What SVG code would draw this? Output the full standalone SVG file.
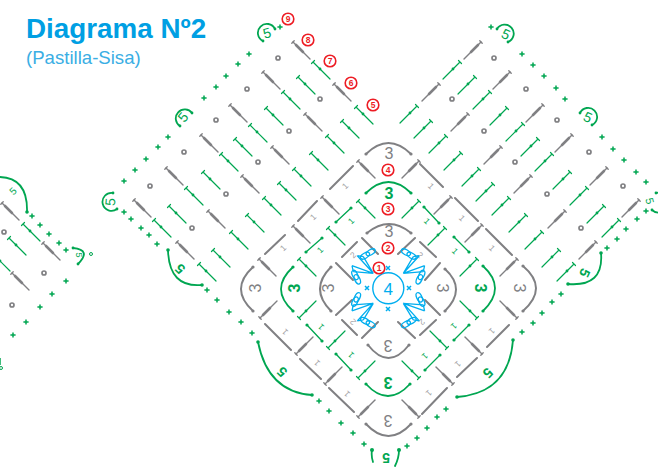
<svg xmlns="http://www.w3.org/2000/svg" width="658" height="467" viewBox="0 0 658 467">
<style>
text{font-family:"Liberation Sans",Arial,sans-serif;text-anchor:middle}
.gl{stroke:#808083;stroke-width:2;stroke-linecap:round;fill:none}
.gr{stroke:#00a651;stroke-width:1.7;stroke-linecap:round;fill:none}
.ar{stroke:#00a651;stroke-width:1.8;stroke-linecap:round;fill:none}
.ag{stroke:#808083;stroke-width:2;stroke-linecap:round;fill:none}
.r{fill:#fff;stroke:#ed1c24;stroke-width:1.6}
.rt{fill:#ed1c24;font-size:8.5px;font-weight:bold}
.d{fill:none;stroke:#808083;stroke-width:1.7}
.t3g{fill:#808083;font-size:16px}
.t3v{fill:#00a651;font-size:16px;font-weight:bold}
.t5{fill:#00a651;font-size:14px}
.t1g{fill:#a0a0a3;font-size:8.5px}
.t1v{fill:#00a651;font-size:8.5px}
.b{stroke:#00aeef;stroke-width:1.3;fill:none}
.gd{fill:#00a651}
</style>
<defs>
<g id="G"><path class="gl" style="stroke-width:1.4" d="M0,0L17,17"/><path class="gl" style="stroke-width:2.6" d="M3,3L10,10"/><path class="gl" style="stroke-width:1.4" d="M-1.2,1.2L1.2,-1.2"/></g>
<g id="V"><path class="gr" style="stroke-width:1.2" d="M0,0L17,17M-1.5,1.5L1.5,-1.5"/><circle class="gd" cx="7" cy="7" r="1.4"/></g>
<g id="P"><path d="M-2.6,0H2.6M0,-2.6V2.6" stroke="#00a651" stroke-width="1.5" fill="none"/></g>
<g id="X"><path d="M-2,-2L2,2M-2,2L2,-2" stroke="#00aeef" stroke-width="1.5" fill="none"/></g>
<g id="Q">
<ellipse class="b" cx="370.7" cy="252.3" rx="5" ry="2.6" transform="rotate(-30 370.7 252.3)"/>
<ellipse class="b" cx="365" cy="255.7" rx="5" ry="2.6" transform="rotate(-30 365 255.7)"/>
<ellipse class="b" cx="355" cy="275" rx="5" ry="2.6" transform="rotate(65 355 275)"/>
<ellipse class="b" cx="357.3" cy="279.3" rx="5" ry="2.6" transform="rotate(65 357.3 279.3)"/>
<path class="b" d="M373.3,273.3L357.3,255.7M373.3,273.3L363.3,256.7M373.3,273.3L352,265.7M373.3,273.3L353.3,271.7M352,265.7L353.3,271.7M357.3,255.7L363.3,256.7"/>
</g>
</defs>
<g id="title">
<text x="26" y="38" style="text-anchor:start;font-size:27.8px;font-weight:bold;fill:#009fe3">Diagrama Nº2</text>
<text x="26" y="63.5" style="text-anchor:start;font-size:18.6px;fill:#3aaee4">(Pastilla-Sisa)</text>
</g>
<g id="connectors">
<g id="gray-stitches">
<use href="#G" x="293" y="42"/><use href="#G" x="334" y="84"/><use href="#G" x="263" y="72"/><use href="#G" x="305" y="114"/><use href="#G" x="230" y="105"/><use href="#G" x="272" y="147"/><use href="#G" x="201" y="135"/><use href="#G" x="242" y="176"/><use href="#G" x="166" y="168"/><use href="#G" x="208" y="211"/><use href="#G" x="134" y="200"/><use href="#G" x="177" y="242"/><use href="#G" x="259" y="259"/><use href="#G" x="293" y="226"/><use href="#G" x="322" y="197"/><use href="#G" x="358" y="161"/><use href="#G" x="2" y="203"/><use href="#G" x="43" y="243"/><use href="#G" x="12" y="273"/>
<use href="#G" transform="translate(481,42) scale(-1,1)"/><use href="#G" transform="translate(439,84) scale(-1,1)"/><use href="#G" transform="translate(510,72) scale(-1,1)"/><use href="#G" transform="translate(468,114) scale(-1,1)"/><use href="#G" transform="translate(543,105) scale(-1,1)"/><use href="#G" transform="translate(501,147) scale(-1,1)"/><use href="#G" transform="translate(572,135) scale(-1,1)"/><use href="#G" transform="translate(531,176) scale(-1,1)"/><use href="#G" transform="translate(607,168) scale(-1,1)"/><use href="#G" transform="translate(565,211) scale(-1,1)"/><use href="#G" transform="translate(639,200) scale(-1,1)"/><use href="#G" transform="translate(596,242) scale(-1,1)"/><use href="#G" transform="translate(517,259) scale(-1,1)"/><use href="#G" transform="translate(482,225) scale(-1,1)"/><use href="#G" transform="translate(451,197) scale(-1,1)"/><use href="#G" transform="translate(419,161) scale(-1,1)"/>
<use href="#G" transform="translate(260,318) scale(1,-1)"/><use href="#G" transform="translate(296,354) scale(1,-1)"/><use href="#G" transform="translate(325,384) scale(1,-1)"/><use href="#G" transform="translate(358,417) scale(1,-1)"/>
<use href="#G" transform="translate(517,318) scale(-1,-1)"/><use href="#G" transform="translate(482,354) scale(-1,-1)"/><use href="#G" transform="translate(453,384) scale(-1,-1)"/><use href="#G" transform="translate(419,417) scale(-1,-1)"/>
</g>
<g id="green-stitches">
<use href="#V" x="313" y="62"/><use href="#V" x="356" y="107"/><use href="#V" x="298" y="77"/><use href="#V" x="283" y="92"/><use href="#V" x="342" y="121"/><use href="#V" x="327" y="136"/><use href="#V" x="266" y="108"/><use href="#V" x="250" y="125"/><use href="#V" x="311" y="153"/><use href="#V" x="235" y="139"/><use href="#V" x="221" y="154"/><use href="#V" x="294" y="169"/><use href="#V" x="279" y="183"/><use href="#V" x="264" y="198"/><use href="#V" x="247" y="215"/><use href="#V" x="231" y="232"/><use href="#V" x="213" y="250"/><use href="#V" x="203" y="172"/><use href="#V" x="186" y="188"/><use href="#V" x="169" y="206"/><use href="#V" x="154" y="220"/><use href="#V" x="199" y="264"/><use href="#V" x="299" y="259"/><use href="#V" x="358" y="201"/><use href="#V" x="328" y="228"/><use href="#V" x="23" y="224"/><use href="#V" x="9" y="238"/><use href="#V" x="-7" y="254"/>
<use href="#V" transform="translate(460,62) scale(-1,1)"/><use href="#V" transform="translate(417,106) scale(-1,1)"/><use href="#V" transform="translate(475,77) scale(-1,1)"/><use href="#V" transform="translate(490,92) scale(-1,1)"/><use href="#V" transform="translate(431,121) scale(-1,1)"/><use href="#V" transform="translate(446,136) scale(-1,1)"/><use href="#V" transform="translate(507,108) scale(-1,1)"/><use href="#V" transform="translate(523,124) scale(-1,1)"/><use href="#V" transform="translate(461,153) scale(-1,1)"/><use href="#V" transform="translate(538,139) scale(-1,1)"/><use href="#V" transform="translate(552,154) scale(-1,1)"/><use href="#V" transform="translate(479,169) scale(-1,1)"/><use href="#V" transform="translate(493,184) scale(-1,1)"/><use href="#V" transform="translate(509,198) scale(-1,1)"/><use href="#V" transform="translate(526,215) scale(-1,1)"/><use href="#V" transform="translate(542,232) scale(-1,1)"/><use href="#V" transform="translate(559,250) scale(-1,1)"/><use href="#V" transform="translate(570,172) scale(-1,1)"/><use href="#V" transform="translate(587,188) scale(-1,1)"/><use href="#V" transform="translate(604,206) scale(-1,1)"/><use href="#V" transform="translate(619,220) scale(-1,1)"/><use href="#V" transform="translate(574,264) scale(-1,1)"/><use href="#V" transform="translate(477,259) scale(-1,1)"/><use href="#V" transform="translate(419,201) scale(-1,1)"/><use href="#V" transform="translate(445,228) scale(-1,1)"/>
<use href="#V" transform="translate(299,318) scale(1,-1)"/><use href="#V" transform="translate(328,348) scale(1,-1)"/><use href="#V" transform="translate(358,378) scale(1,-1)"/>
<use href="#V" transform="translate(477,318) scale(-1,-1)"/><use href="#V" transform="translate(447,348) scale(-1,-1)"/><use href="#V" transform="translate(419,378) scale(-1,-1)"/>
</g>
<path id="gray-bars" class="gl" d="M298,221L317,201M265,254L285,235M330,189L353,166M455,198L478,221M486,229L512,255M420,164L443,187M265,324L291,350M300,359L321,379M329,388L354,412M487,347L509,325M457,377L477,358M422,414L447,388M362,238L378,254M342,257L357,242M336,263L353,280M336,315L352,300M342,320L357,335M362,338L378,322M398,254L415,238M420,242L436,257M425,280L440,263M425,300L440,315M420,335L436,320M398,322L415,338"/>
<g id="green-bars">
<path class="gr" style="stroke-width:1.3" d="M306,252L322,238M336,222L351,208M424,207L439,223M454,237L469,252M307,325L322,341M336,354L351,370M425,370L440,355M454,340L469,325"/>
<g class="gd"><circle cx="306" cy="252" r="1.6"/><circle cx="322" cy="238" r="1.6"/><circle cx="336" cy="222" r="1.6"/><circle cx="351" cy="208" r="1.6"/><circle cx="424" cy="207" r="1.6"/><circle cx="439" cy="223" r="1.6"/><circle cx="454" cy="237" r="1.6"/><circle cx="469" cy="252" r="1.6"/><circle cx="307" cy="325" r="1.6"/><circle cx="322" cy="341" r="1.6"/><circle cx="336" cy="354" r="1.6"/><circle cx="351" cy="370" r="1.6"/><circle cx="425" cy="370" r="1.6"/><circle cx="440" cy="355" r="1.6"/><circle cx="454" cy="340" r="1.6"/><circle cx="469" cy="325" r="1.6"/></g>
</g>
<g id="arcs-gray" class="ag">
<path d="M366,154Q388.5,132 411,154M367,233Q389,215 411,233M368,345Q388.5,371 409,345M366,424Q388.5,448 411,424M253,267Q229,289 253,311M331,267Q309,289 331,311M445,269Q467,289 445,311M523,266Q549,288 523,311"/>
</g>
<g id="arcs-green" class="ar">
<path d="M366,193Q388.5,171 411,193M366,384Q388,408 410,384M293,267Q269,289 293,311M483,266Q507,288 483,311"/>
<path d="M258,342Q268,392 312,395M513,340Q509,393 457,397M168,250Q169,288 202,285M601,253Q604,287 568,284M0,177Q28,178 27,212M73,248Q92,250 78,264"/>
<path d="M263,41A9,9 0 1 1 275,29M180,126A9,9 0 1 1 192,113M113,193A9,9 0 1 0 117,209M497,29A9,9 0 1 1 508,42M580,113A9,9 0 1 1 592,125M656,193A10,10 0 1 1 652,210M372,450Q371,456 373,462M399,450Q399,458 395,466"/>
<g class="gd" stroke="none"><circle cx="258" cy="342" r="1.8"/><circle cx="312" cy="395" r="1.8"/><circle cx="513" cy="340" r="1.8"/><circle cx="457" cy="397" r="1.8"/><circle cx="168" cy="250" r="1.8"/><circle cx="202" cy="285" r="1.8"/><circle cx="601" cy="253" r="1.8"/><circle cx="568" cy="284" r="1.8"/><circle cx="27" cy="212" r="1.8"/><circle cx="73" cy="248" r="1.4"/><circle cx="78" cy="264" r="1.4"/><circle cx="263" cy="41" r="1.4"/><circle cx="275" cy="29" r="1.4"/><circle cx="180" cy="126" r="1.4"/><circle cx="192" cy="113" r="1.4"/><circle cx="113" cy="193" r="1.4"/><circle cx="117" cy="209" r="1.4"/><circle cx="497" cy="29" r="1.4"/><circle cx="508" cy="42" r="1.4"/><circle cx="580" cy="113" r="1.4"/><circle cx="592" cy="125" r="1.4"/><circle cx="656" cy="193" r="1.4"/><circle cx="652" cy="210" r="1.4"/><circle cx="372" cy="450" r="2"/><circle cx="399" cy="450" r="2"/><circle cx="366" cy="193" r="1.6"/><circle cx="411" cy="193" r="1.6"/><circle cx="366" cy="384" r="1.6"/><circle cx="410" cy="384" r="1.6"/><circle cx="293" cy="267" r="1.6"/><circle cx="293" cy="311" r="1.6"/><circle cx="483" cy="266" r="1.6"/><circle cx="483" cy="311" r="1.6"/></g>
</g>
<g fill="#808083"><circle cx="366" cy="154" r="1.6"/><circle cx="411" cy="154" r="1.6"/><circle cx="367" cy="233" r="1.6"/><circle cx="411" cy="233" r="1.6"/><circle cx="368" cy="345" r="1.6"/><circle cx="409" cy="345" r="1.6"/><circle cx="366" cy="424" r="1.6"/><circle cx="411" cy="424" r="1.6"/><circle cx="253" cy="267" r="1.6"/><circle cx="253" cy="311" r="1.6"/><circle cx="331" cy="267" r="1.6"/><circle cx="331" cy="311" r="1.6"/><circle cx="445" cy="269" r="1.6"/><circle cx="445" cy="311" r="1.6"/><circle cx="523" cy="266" r="1.6"/><circle cx="523" cy="311" r="1.6"/></g>
</g>
<g id="rings">
<circle class="d" cx="278" cy="58" r="2"/><circle class="d" cx="247" cy="89" r="2"/><circle class="d" cx="320" cy="99" r="2"/><circle class="d" cx="289" cy="131" r="2"/><circle class="d" cx="216" cy="120" r="2"/><circle class="d" cx="184" cy="152" r="2"/><circle class="d" cx="258" cy="162" r="2"/><circle class="d" cx="226" cy="194" r="2"/><circle class="d" cx="150" cy="186" r="2"/><circle class="d" cx="192" cy="228" r="2"/><circle class="d" cx="494" cy="58" r="2"/><circle class="d" cx="526" cy="89" r="2"/><circle class="d" cx="557" cy="120" r="2"/><circle class="d" cx="589" cy="152" r="2"/><circle class="d" cx="452" cy="99" r="2"/><circle class="d" cx="484" cy="131" r="2"/><circle class="d" cx="515" cy="162" r="2"/><circle class="d" cx="547" cy="194" r="2"/><circle class="d" cx="581" cy="228" r="2"/><circle class="d" cx="623" cy="186" r="2"/><circle class="d" cx="4" cy="232" r="2"/><circle class="d" cx="44" cy="273" r="2"/><circle class="d" cx="12" cy="305" r="2"/>
<circle cx="91" cy="254" r="1.5" fill="none" stroke="#00a651"/><circle cx="1" cy="368" r="1.5" fill="none" stroke="#00a651"/>
<path d="M0,358V365" stroke="#00a651" stroke-width="1.5"/>
</g>
<g id="plus-marks">
<use href="#P" x="280" y="27"/><use href="#P" x="249" y="54"/><use href="#P" x="238" y="64"/><use href="#P" x="226" y="76"/><use href="#P" x="216" y="87"/><use href="#P" x="204" y="98"/><use href="#P" x="168" y="137"/><use href="#P" x="158" y="147"/><use href="#P" x="146" y="159"/><use href="#P" x="135" y="170"/><use href="#P" x="124" y="181"/><use href="#P" x="124" y="212"/><use href="#P" x="131" y="219"/><use href="#P" x="141" y="228"/><use href="#P" x="149" y="235"/><use href="#P" x="157" y="244"/><use href="#P" x="207" y="290"/><use href="#P" x="217" y="300"/><use href="#P" x="229" y="312"/><use href="#P" x="241" y="322"/><use href="#P" x="252" y="333"/><use href="#P" x="319" y="401"/><use href="#P" x="329" y="411"/><use href="#P" x="341" y="423"/><use href="#P" x="353" y="433"/><use href="#P" x="364" y="444"/><use href="#P" x="407" y="446"/><use href="#P" x="417" y="438"/><use href="#P" x="427" y="428"/><use href="#P" x="437" y="417"/><use href="#P" x="446" y="409"/><use href="#P" x="522" y="332"/><use href="#P" x="533" y="323"/><use href="#P" x="542" y="313"/><use href="#P" x="561" y="294"/><use href="#P" x="552" y="302"/><use href="#P" x="607" y="248"/><use href="#P" x="617" y="239"/><use href="#P" x="626" y="229"/><use href="#P" x="637" y="219"/><use href="#P" x="646" y="211"/><use href="#P" x="646" y="182"/><use href="#P" x="636" y="172"/><use href="#P" x="624" y="160"/><use href="#P" x="613" y="149"/><use href="#P" x="602" y="137"/><use href="#P" x="565" y="99"/><use href="#P" x="556" y="88"/><use href="#P" x="544" y="76"/><use href="#P" x="533" y="65"/><use href="#P" x="522" y="54"/><use href="#P" x="491" y="27"/>
<use href="#P" x="32" y="216"/><use href="#P" x="40" y="225"/><use href="#P" x="49" y="234"/><use href="#P" x="59" y="243"/><use href="#P" x="66" y="250"/><use href="#P" x="66" y="281"/><use href="#P" x="52" y="294"/><use href="#P" x="40" y="307"/><use href="#P" x="26" y="322"/><use href="#P" x="13" y="335"/>
</g>
<g id="labels-3">
<text class="t3g" x="389" y="159">3</text>
<text class="t3v" x="389" y="199">3</text>
<text class="t3g" x="389" y="237">3</text>
<text class="t3g" transform="translate(388,340) rotate(180)">3</text>
<text class="t3v" transform="translate(388,377) rotate(180)">3</text>
<text class="t3g" transform="translate(388,415) rotate(180)">3</text>
<text class="t3g" transform="translate(260.5,288) rotate(-90)">3</text>
<text class="t3v" transform="translate(300,288) rotate(-90)">3</text>
<text class="t3g" transform="translate(334,288) rotate(-90)">3</text>
<text class="t3g" transform="translate(437,288) rotate(90)">3</text>
<text class="t3v" transform="translate(475,288) rotate(90)">3</text>
<text class="t3g" transform="translate(514,288) rotate(90)">3</text>
</g>
<g id="labels-1">
<text class="t1g" transform="translate(345,186) rotate(-45)" y="3">1</text>
<text class="t1g" transform="translate(313,217) rotate(-45)" y="3">1</text>
<text class="t1g" transform="translate(283,248) rotate(-45)" y="3">1</text>
<text class="t1v" transform="translate(320,250) rotate(-45)" y="3">1</text>
<text class="t1v" transform="translate(351,221) rotate(-45)" y="3">1</text>
<text class="t1g" transform="translate(431,186) rotate(45)" y="3">1</text>
<text class="t1g" transform="translate(462,218) rotate(45)" y="3">1</text>
<text class="t1g" transform="translate(492,248) rotate(45)" y="3">1</text>
<text class="t1v" transform="translate(427,221) rotate(45)" y="3">1</text>
<text class="t1v" transform="translate(455,251) rotate(45)" y="3">1</text>
<text class="t1g" transform="translate(285,332) rotate(-135)" y="3">1</text>
<text class="t1g" transform="translate(317,363) rotate(-135)" y="3">1</text>
<text class="t1g" transform="translate(347,394) rotate(-135)" y="3">1</text>
<text class="t1v" transform="translate(321,327) rotate(-135)" y="3">1</text>
<text class="t1v" transform="translate(351,355) rotate(-135)" y="3">1</text>
<text class="t1g" transform="translate(429,393) rotate(135)" y="3">1</text>
<text class="t1g" transform="translate(458,364) rotate(135)" y="3">1</text>
<text class="t1g" transform="translate(492,331) rotate(135)" y="3">1</text>
<text class="t1v" transform="translate(425,356) rotate(135)" y="3">1</text>
<text class="t1v" transform="translate(454,326) rotate(135)" y="3">1</text>
<text class="t1g" transform="translate(353,255) rotate(-45)" y="3">2</text>
<text class="t1g" transform="translate(420,255) rotate(45)" y="3">2</text>
<text class="t1g" transform="translate(353,322) rotate(-135)" y="3">2</text>
<text class="t1g" transform="translate(422,322) rotate(135)" y="3">2</text>
</g>
<g id="labels-5">
<text class="t5" transform="translate(267,33) rotate(-15)" y="5">5</text>
<text class="t5" transform="translate(183,117) rotate(-50)" y="5">5</text>
<text class="t5" transform="translate(110,202) rotate(-85)" y="5">5</text>
<text class="t5" transform="translate(506,34) rotate(25)" y="5">5</text>
<text class="t5" transform="translate(588,117) rotate(25)" y="5">5</text>
<text class="t5" style="font-size:11px" transform="translate(650,201) rotate(75)" y="4">5</text>
<text class="t5" style="font-weight:bold" transform="translate(180,269) rotate(-135)" y="5">5</text>
<text class="t5" style="font-weight:bold" transform="translate(282,372) rotate(-135)" y="5">5</text>
<text class="t5" style="font-weight:bold" transform="translate(488,373) rotate(135)" y="5">5</text>
<text class="t5" style="font-weight:bold" transform="translate(585,273) rotate(115)" y="5">5</text>
<text class="t5" style="font-weight:bold" transform="translate(386,458) rotate(180)" y="5">5</text>
<text class="t5" style="font-size:10px" transform="translate(13,191) rotate(-45)" y="3.5">5</text>
<text class="t5" style="font-size:9px" transform="translate(79,255) rotate(90)" y="3">5</text>
</g>
<g id="center">
<use href="#Q"/><use href="#Q" transform="translate(776.6,0) scale(-1,1)"/><use href="#Q" transform="translate(0,576.6) scale(1,-1)"/><use href="#Q" transform="translate(776.6,576.6) scale(-1,-1)"/>
<circle cx="388.3" cy="288.3" r="15.5" fill="none" stroke="#00aeef" stroke-width="1.4"/>
<text x="388.3" y="294.5" style="font-size:17px;fill:#00aeef">4</text>
<use href="#X" x="388" y="268"/><use href="#X" x="367" y="288"/><use href="#X" x="409" y="288"/><use href="#X" x="388" y="309"/>
</g>
<g id="rounds">
<g id="r9"><circle class="r" cx="288" cy="19" r="5.8"/><text class="rt" x="288" y="22">9</text></g>
<g id="r8"><circle class="r" cx="308" cy="40" r="5.8"/><text class="rt" x="308" y="43">8</text></g>
<g id="r7"><circle class="r" cx="330" cy="61" r="5.8"/><text class="rt" x="330" y="64">7</text></g>
<g id="r6"><circle class="r" cx="351" cy="83" r="5.8"/><text class="rt" x="351" y="86">6</text></g>
<g id="r5"><circle class="r" cx="373" cy="105" r="5.8"/><text class="rt" x="373" y="108">5</text></g>
<g id="r4"><circle class="r" cx="388" cy="170" r="5.8"/><text class="rt" x="388" y="173">4</text></g>
<g id="r3"><circle class="r" cx="388" cy="209" r="5.8"/><text class="rt" x="388" y="212">3</text></g>
<g id="r2"><circle class="r" cx="388" cy="248" r="5.8"/><text class="rt" x="388" y="251">2</text></g>
<g id="r1"><circle class="r" cx="379" cy="268" r="5.8"/><text class="rt" x="379" y="271">1</text></g>
</g>
</svg>
